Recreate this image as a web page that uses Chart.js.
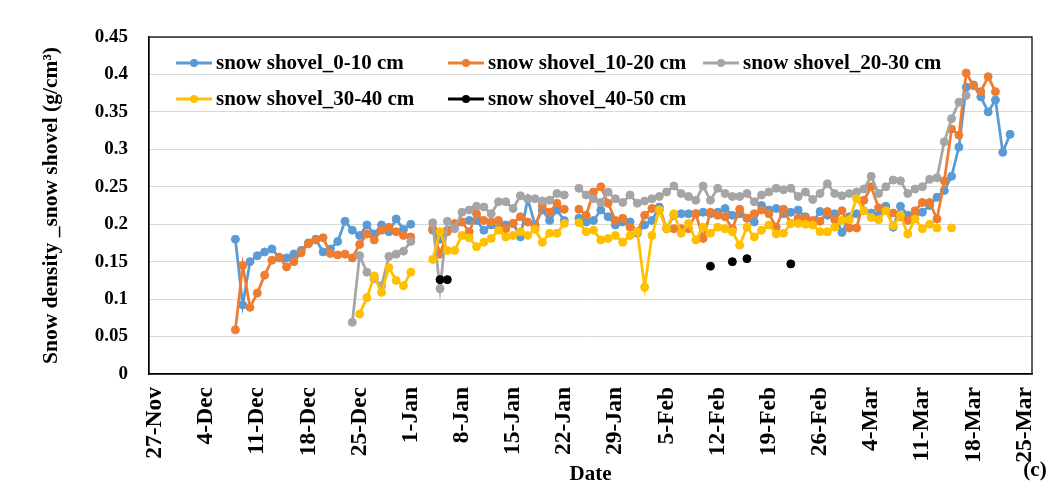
<!DOCTYPE html>
<html>
<head>
<meta charset="utf-8">
<title>Snow density - snow shovel</title>
<script src="https://cdn.jsdelivr.net/npm/chart.js@4.4.1/dist/chart.umd.min.js"></script>
<style>
  html, body { margin: 0; padding: 0; background: #fff; }
  #wrap { width: 1054px; height: 490px; }
</style>
</head>
<body>
<div id="wrap"><canvas id="densityChart" width="1054" height="490"></canvas></div>
<script>
// x values are day offsets counted from 27-Nov (0 = 27-Nov, 7 = 4-Dec ...)
const tickLabels = ['27-Nov', '4-Dec', '11-Dec', '18-Dec', '25-Dec', '1-Jan', '8-Jan', '15-Jan', '22-Jan',
  '29-Jan', '5-Feb', '12-Feb', '19-Feb', '26-Feb', '4-Mar', '11-Mar', '18-Mar', '25-Mar'];

const seriesNames = ['snow shovel_0-10 cm', 'snow shovel_10-20 cm', 'snow shovel_20-30 cm',
  'snow shovel_30-40 cm', 'snow shovel_40-50 cm'];
const seriesColors = ['#5B9BD5', '#ED7D31', '#A5A5A5', '#FFC000', '#000000'];

// daily values, first value of each list is at its start day
const start0_10 = 11;  // 8-Dec
const shovel0_10 = [
  0.180, 0.092, 0.150, 0.158, 0.163, 0.167, 0.155,
  0.155, 0.160, 0.165, 0.175, 0.180, 0.163, 0.167,
  0.177, 0.204, 0.192, 0.185, 0.199, 0.187, 0.199,
  0.190, 0.207, 0.193, 0.200, null, null, 0.192,
  0.180, 0.192, 0.199, 0.203, 0.205, 0.205, 0.192,
  0.199, 0.194, 0.199, 0.201, 0.183, 0.234, 0.199,
  0.219, 0.205, 0.219, 0.205, null, 0.208, 0.203,
  0.205, 0.219, 0.210, 0.199, 0.203, 0.203, 0.188,
  0.199, 0.205, 0.223, 0.194, 0.212, 0.214, 0.214,
  0.214, 0.216, 0.214, 0.216, 0.221, 0.212, 0.214,
  0.208, 0.203, 0.225, 0.219, 0.221, 0.214, 0.216,
  0.219, 0.210, 0.203, 0.217, 0.212, 0.214, 0.189,
  0.210, 0.214, 0.218, 0.215, 0.212, 0.224, 0.196,
  0.224, 0.212, 0.214, 0.216, 0.225, 0.236, 0.245,
  0.264, 0.303, 0.383, 0.386, 0.370, 0.350, 0.366,
  0.296, 0.320
];

const start10_20 = 11;
const shovel10_20 = [
  0.059, 0.145, 0.089, 0.108, 0.132, 0.152, 0.156,
  0.143, 0.150, 0.162, 0.174, 0.179, 0.182, 0.161,
  0.159, 0.160, 0.155, 0.173, 0.187, 0.179, 0.192,
  0.196, 0.190, 0.185, 0.183, null, null, 0.194,
  0.160, 0.190, 0.201, 0.203, 0.190, 0.214, 0.205,
  0.203, 0.205, 0.194, 0.201, 0.210, 0.203, 0.196,
  0.225, 0.216, 0.228, 0.220, null, 0.220, 0.212,
  0.243, 0.250, 0.228, 0.205, 0.208, 0.196, 0.190,
  0.212, 0.221, 0.219, 0.194, 0.194, 0.194, 0.194,
  0.214, 0.181, 0.216, 0.212, 0.210, 0.194, 0.220,
  0.208, 0.214, 0.219, 0.214, 0.196, 0.220, 0.201,
  0.208, 0.208, 0.205, 0.204, 0.217, 0.206, 0.218,
  0.195, 0.195, 0.232, 0.250, 0.222, 0.218, 0.215,
  0.210, 0.205, 0.218, 0.229, 0.229, 0.207, 0.258,
  0.327, 0.319, 0.402, 0.385, 0.377, 0.397, 0.377
];

const start20_30 = 27;  // 24-Dec
const shovel20_30 = [
  0.069, 0.158, 0.136, 0.127, 0.118,
  0.157, 0.160, 0.164, 0.177, null, null, 0.202,
  0.114, 0.204, 0.194, 0.216, 0.219, 0.224, 0.223,
  0.214, 0.230, 0.230, 0.221, 0.238, 0.234, 0.234,
  0.231, 0.232, 0.241, 0.239, null, 0.248, 0.239,
  0.234, 0.229, 0.243, 0.234, 0.229, 0.239, 0.228,
  0.231, 0.234, 0.237, 0.243, 0.251, 0.241, 0.237,
  0.232, 0.251, 0.232, 0.248, 0.241, 0.237, 0.237,
  0.241, 0.230, 0.239, 0.243, 0.248, 0.246, 0.248,
  0.237, 0.243, 0.233, 0.241, 0.254, 0.241, 0.238,
  0.241, 0.243, 0.247, 0.264, 0.241, 0.250, 0.259,
  0.258, 0.241, 0.247, 0.250, 0.260, 0.262, 0.310,
  0.341, 0.363, 0.372
];

const start30_40 = 28;  // 25-Dec
const shovel30_40 = [
  0.080, 0.102, 0.131, 0.109,
  0.142, 0.125, 0.118, 0.136, null, null, 0.153,
  0.190, 0.165, 0.165, 0.185, 0.182, 0.170, 0.176,
  0.181, 0.192, 0.183, 0.185, 0.190, 0.185, 0.193,
  0.176, 0.188, 0.188, 0.201, null, 0.202, 0.190,
  0.192, 0.179, 0.181, 0.185, 0.176, 0.185, 0.190,
  0.116, 0.185, 0.219, 0.194, 0.214, 0.188, 0.201,
  0.179, 0.196, 0.188, 0.196, 0.194, 0.190, 0.172,
  0.196, 0.183, 0.192, 0.199, 0.187, 0.188, 0.201,
  0.201, 0.200, 0.199, 0.190, 0.190, 0.196, 0.205,
  0.206, 0.234, 0.218, 0.209, 0.206, 0.218, 0.198,
  0.212, 0.187, 0.207, 0.194, 0.200, 0.195, null,
  0.195
];

// 40-50 cm only has a few samples
const days40_50 = [39, 40, 76, 79, 81, 87];
const shovel40_50 = [0.126, 0.126, 0.144, 0.150, 0.154, 0.147];

function toPoints(startDay, values) {
  return values.map((v, i) => ({ x: startDay + i, y: v }));
}

const datasets = [
  toPoints(start0_10, shovel0_10),
  toPoints(start10_20, shovel10_20),
  toPoints(start20_30, shovel20_30),
  toPoints(start30_40, shovel30_40),
  days40_50.map((d, i) => ({ x: d, y: shovel40_50[i] }))
].map((pts, i) => ({
  label: seriesNames[i],
  data: pts,
  borderColor: seriesColors[i],
  backgroundColor: seriesColors[i],
  pointBorderColor: seriesColors[i],
  pointBackgroundColor: seriesColors[i],
  borderWidth: 2.75,
  pointRadius: 4,
  pointHoverRadius: 4,
  pointBorderWidth: 1,
  tension: 0,
  spanGaps: false,
  // only join samples taken on consecutive days
  segment: {
    borderColor: (c) => (c.p1.parsed.x - c.p0.parsed.x > 1 ? 'rgba(0,0,0,0)' : undefined)
  },
  order: 5 - i   // later series drawn on top, like the original
}));

const FONT = '"Liberation Serif", "Times New Roman", serif';

// white background, plot frame, legend inside the plot and the panel tag
const framePlugin = {
  id: 'framePlugin',
  beforeDraw(chart) {
    const ctx = chart.ctx;
    ctx.save();
    ctx.fillStyle = '#fff';
    ctx.fillRect(0, 0, chart.width, chart.height);
    ctx.restore();
  },
  afterDraw(chart) {
    const ctx = chart.ctx;
    const a = chart.chartArea;
    ctx.save();
    ctx.strokeStyle = '#000';
    ctx.lineWidth = 1.25;
    ctx.strokeRect(a.left, a.top, a.right - a.left, a.bottom - a.top);

    // legend, 3 columns x 2 rows
    const colX = [27, 299, 554];
    const rowY = [26, 62];
    ctx.font = 'bold 21px ' + FONT;
    ctx.textBaseline = 'middle';
    ctx.textAlign = 'left';
    seriesNames.forEach((name, i) => {
      const x = a.left + colX[i % 3];
      const y = a.top + rowY[Math.floor(i / 3)];
      ctx.strokeStyle = seriesColors[i];
      ctx.fillStyle = seriesColors[i];
      ctx.lineWidth = 3;
      ctx.beginPath();
      ctx.moveTo(x, y);
      ctx.lineTo(x + 36, y);
      ctx.stroke();
      ctx.beginPath();
      ctx.arc(x + 18, y, 4, 0, Math.PI * 2);
      ctx.fill();
      ctx.fillStyle = '#000';
      ctx.fillText(name, x + 40, y + 1);
    });

    ctx.font = 'bold 21px ' + FONT;
    ctx.textAlign = 'center';
    ctx.fillText('(c)', 1035, 471);
    ctx.restore();
  }
};

new Chart(document.getElementById('densityChart'), {
  type: 'line',
  data: { datasets: datasets },
  options: {
    responsive: false,
    animation: false,
    layout: { padding: { left: 0, top: 37, right: 22, bottom: 0 } },
    plugins: {
      legend: { display: false },
      tooltip: { enabled: false }
    },
    scales: {
      x: {
        type: 'linear',
        min: -0.82,
        max: 120,
        afterFit: (s) => {
          s.height = 116;
          s.paddingLeft = 0;
          s.paddingRight = 0;
        },
        afterBuildTicks: (s) => { s.ticks = tickLabels.map((_, i) => ({ value: i * 7 })); },
        grid: { display: false, drawTicks: false },
        border: { display: true, color: '#000', width: 1.25 },
        ticks: {
          autoSkip: false,
          minRotation: 90,
          maxRotation: 90,
          padding: 13,
          color: '#000',
          font: { family: FONT, size: 23.5, weight: 'bold' },
          callback: (v) => tickLabels[Math.round(v / 7)]
        },
        title: {
          display: true,
          text: 'Date',
          color: '#000',
          font: { family: FONT, size: 21, weight: 'bold' },
          padding: { top: 0, bottom: 3 }
        }
      },
      y: {
        min: 0,
        max: 0.45,
        afterFit: (s) => { s.width = 149; },
        grid: { color: '#d9d9d9', lineWidth: 1, drawTicks: false },
        border: { display: true, color: '#000', width: 1.25 },
        ticks: {
          stepSize: 0.05,
          padding: 21,
          color: '#000',
          font: { family: FONT, size: 19, weight: 'bold' },
          callback: (v) => String(+v.toFixed(2))
        },
        title: {
          display: true,
          text: 'Snow density _snow shovel (g/cm³)',
          color: '#000',
          font: { family: FONT, size: 21.5, weight: 'bold' },
          padding: { top: 39, bottom: 0 }
        }
      }
    }
  },
  plugins: [framePlugin]
});
</script>
</body>
</html>
